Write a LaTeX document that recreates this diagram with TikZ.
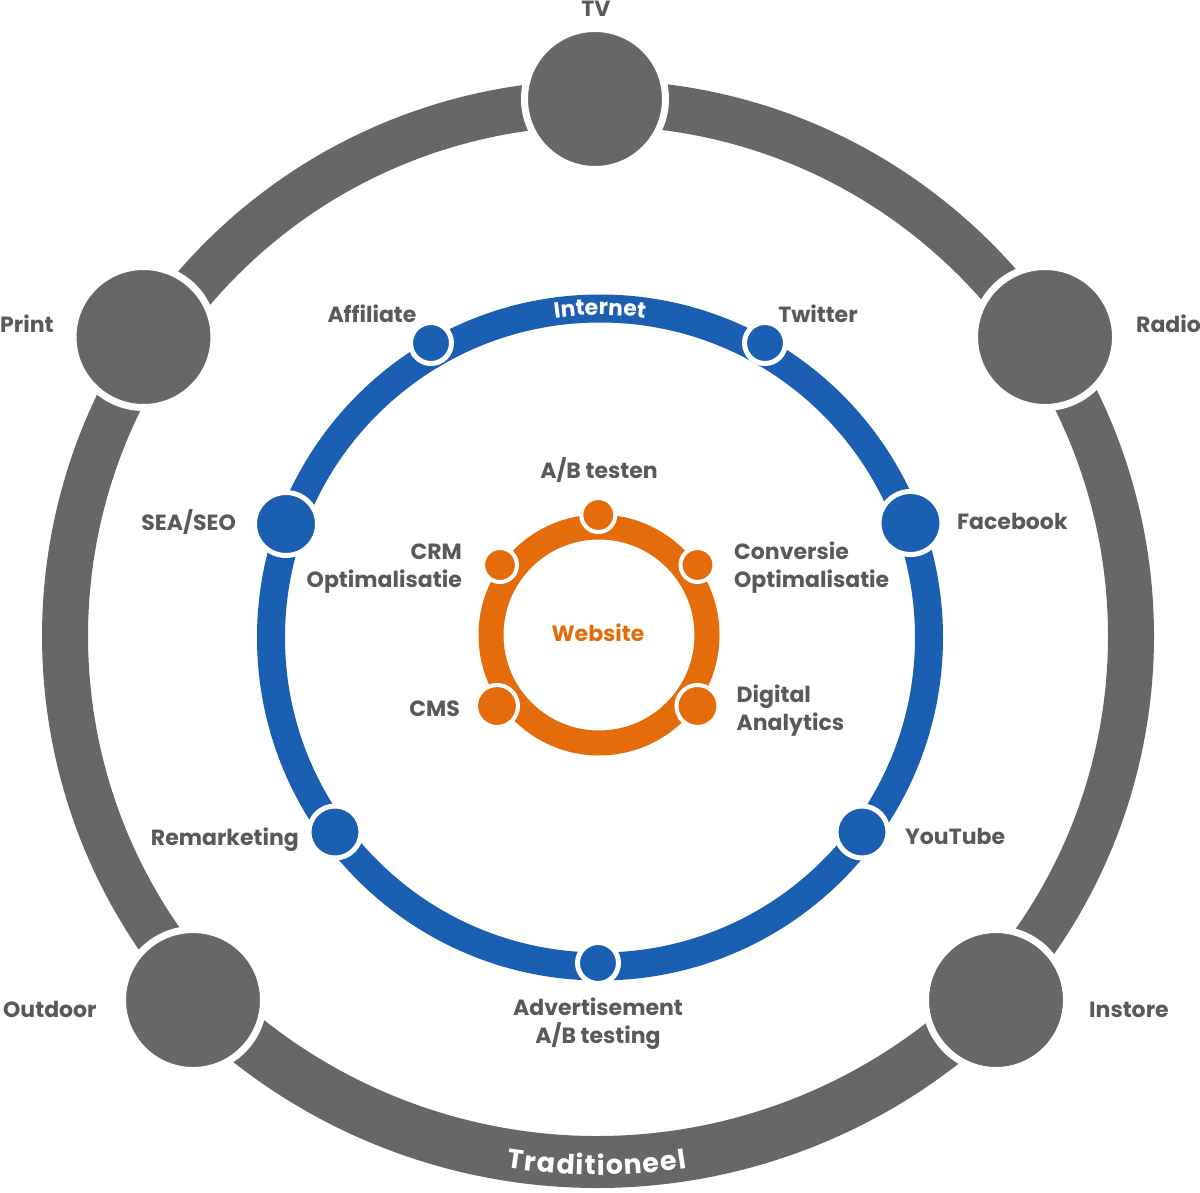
\documentclass[tikz,border=0pt]{standalone}
\usepackage{fontspec}
\setmainfont{Poppins}
\usetikzlibrary{decorations.text}
\definecolor{grayc}{RGB}{103,103,103}
\definecolor{textgray}{RGB}{88,89,91}
\definecolor{bluec}{RGB}{26,95,178}
\definecolor{orangec}{RGB}{228,108,10}
\newcommand{\tradfont}{\fontsize{27}{30}\selectfont\bfseries}
\begin{document}
\begin{tikzpicture}[x=1pt,y=1pt,
  bigc/.style={circle, fill=grayc, draw=white, line width=7pt, minimum size=141pt, inner sep=0pt},
  bnode/.style={circle, fill=bluec, draw=white, line width=5pt, minimum size=#1, inner sep=0pt},
  onode/.style={circle, fill=orangec, draw=white, line width=4pt, minimum size=#1, inner sep=0pt},
  lab/.style={text=textgray, font=\fontsize{22}{26}\selectfont\bfseries, inner sep=0pt},
  grayring/.style={draw=grayc},
]
\useasboundingbox (0,0) rectangle (1200,-1193);
% outer (traditional) ring
\draw[grayring, line width=46pt] ([shift={(-42:533)}]598,-636) arc[start angle=-42, end angle=222, radius=533];
\draw[grayring, line width=52pt] ([shift={(224:562)}]597,-600) arc[start angle=224, end angle=316, radius=562];
% internet ring
\draw[bluec, line width=28pt] (600,-637.5) circle[radius=329];
% website ring
\draw[orangec, line width=25pt] (599,-635) circle[radius=108];

% ring labels
\path[decorate, decoration={text along path, text align=center,
  text={|\fontsize{22}{26}\selectfont\bfseries\color{white}|Internet}}]
  ([shift={(101:322.5)}]600,-637.5) arc[start angle=101, end angle=79, radius=322.5];
\path[decorate, decoration={text effects along path, text={Traditioneel}, text align=center,
  text effects/.cd, text along path,
  characters={text=white, font=\tradfont, inner xsep=0.6pt, inner ysep=0pt},
  character widths={font=\tradfont, inner xsep=0.6pt}}]
  ([shift={(256:575)}]597,-600) arc[start angle=256, end angle=284, radius=575];

% traditional channels
\node[bigc] (tv) at (595,-99) {};
\node[bigc] (radio) at (1045,-337) {};
\node[bigc] (print) at (143.5,-337) {};
\node[bigc] (outdoor) at (193,-1000) {};
\node[bigc] (instore) at (996,-1000) {};

% internet channels
\node[bnode=41pt] (affiliate) at (431,-343) {};
\node[bnode=41pt] (twitter) at (765,-343) {};
\node[bnode=63pt] (seaseo) at (286,-524) {};
\node[bnode=63pt] (facebook) at (910.5,-523) {};
\node[bnode=52pt] (remarketing) at (335,-832) {};
\node[bnode=52pt] (youtube) at (862,-832) {};
\node[bnode=41pt] (advert) at (598,-963) {};

% website items
\node[onode=34pt] (ab) at (598.3,-515) {};
\node[onode=34pt] (crm) at (500,-565) {};
\node[onode=34pt] (conv) at (697.5,-565) {};
\node[onode=42pt] (cms) at (497,-706) {};
\node[onode=42pt] (digital) at (697.5,-706) {};

% labels
\node[lab, anchor=base] (tvl) at (596,-17) {TV};
\node[lab, anchor=base west] (printl) at (0,-332) {Print};
\node[lab, anchor=base west] (radiol) at (1136,-332) {Radio};
\node[lab, anchor=base west] (outdoorl) at (3,-1017) {Outdoor};
\node[lab, anchor=base west] (instorel) at (1089,-1017) {Instore};
\node[lab, anchor=base] (affl) at (372,-323) {Affiliate};
\node[lab, anchor=base] (twl) at (818,-323) {Twitter};
\node[lab, anchor=base east] (seal) at (236,-530) {SEA/SEO};
\node[lab, anchor=base west] (fbl) at (957,-529.5) {Facebook};
\node[lab, anchor=base east] (reml) at (299,-845) {Remarketing};
\node[lab, anchor=base west] (ytl) at (905,-844) {YouTube};
\node[lab, anchor=base] (advl1) at (598,-1015.5) {Advertisement};
\node[lab, anchor=base] (advl2) at (598,-1043.5) {A/B testing};
\node[lab, anchor=base] (abl) at (599,-478.5) {A/B testen};
\node[lab, anchor=base east] (crml1) at (462,-559.5) {CRM};
\node[lab, anchor=base east] (crml2) at (462,-587.5) {Optimalisatie};
\node[lab, anchor=base west] (convl1) at (734,-559.5) {Conversie};
\node[lab, anchor=base west] (convl2) at (734,-587.5) {Optimalisatie};
\node[lab, anchor=base east] (cmsl) at (460,-716.5) {CMS};
\node[lab, anchor=base west] (digl1) at (736.5,-702.5) {Digital};
\node[lab, anchor=base west] (digl2) at (736.5,-730.5) {Analytics};
\node[lab, anchor=base, text=orangec] (web) at (598,-641.5) {Website};
\end{tikzpicture}
\end{document}
